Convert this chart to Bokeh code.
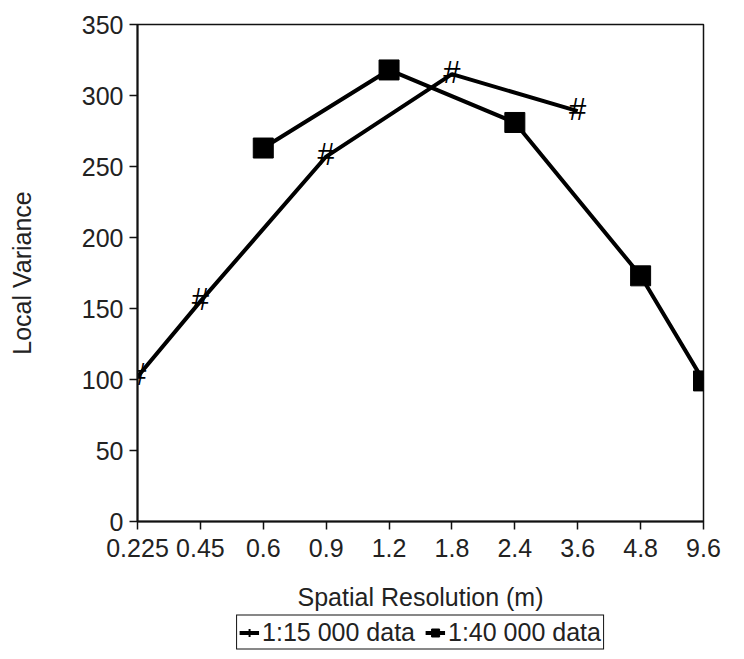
from bokeh.plotting import figure
from bokeh.layouts import column
from bokeh.models import Range1d, FixedTicker, Legend, LegendItem, ColumnDataSource
from bokeh.core.properties import value
from bokeh.embed import file_html
from bokeh.resources import INLINE

# ---- data ----
categories = ["0.225", "0.45", "0.6", "0.9", "1.2", "1.8", "2.4", "3.6", "4.8", "9.6"]
s15_res = ["0.225", "0.45", "0.9", "1.8", "3.6"]
s15_var = [102, 155, 257, 315, 289]
s40_res = ["0.6", "1.2", "2.4", "4.8", "9.6"]
s40_var = [263, 318, 281, 173, 99]
y_ticks = [0, 50, 100, 150, 200, 250, 300, 350]
series_labels = ["1:15 000 data", "1:40 000 data"]

FONT = "Liberation Sans"
FS = "25px"

pos = {c: i for i, c in enumerate(categories)}
src15 = ColumnDataSource(dict(x=[pos[c] for c in s15_res], y=s15_var, t=["#"] * len(s15_res)))
src40 = ColumnDataSource(dict(x=[pos[c] for c in s40_res], y=s40_var))

p = figure(frame_width=566, frame_height=497, output_backend="svg", toolbar_location=None,
           x_range=Range1d(0, len(categories) - 1), y_range=Range1d(0, 350),
           min_border_left=137, min_border_right=33, min_border_top=24, min_border_bottom=0)
p.background_fill_color = "white"
p.border_fill_color = "white"
p.outline_line_color = "#111111"
p.outline_line_width = 1.5
p.xgrid.visible = False
p.ygrid.visible = False

p.line("x", "y", source=src15, line_color="black", line_width=4)
p.text("x", "y", text="t", source=src15, text_font=value(FONT), text_font_size="31px",
       text_align="center", text_baseline="middle", text_color="black", y_offset=-2)
p.line("x", "y", source=src40, line_color="black", line_width=4)
p.scatter("x", "y", source=src40, marker="square", size=20, fill_color="black", line_color="black")

p.xaxis.ticker = FixedTicker(ticks=list(range(len(categories))))
p.xaxis.major_label_overrides = {i: c for i, c in enumerate(categories)}
p.yaxis.ticker = FixedTicker(ticks=y_ticks)

for ax in (p.xaxis[0], p.yaxis[0]):
    ax.axis_line_color = "#111111"
    ax.axis_line_width = 2
    ax.major_tick_line_color = "#111111"
    ax.major_tick_line_width = 1.5
    ax.major_tick_out = 8
    ax.major_tick_in = 0
    ax.minor_tick_out = 0
    ax.minor_tick_in = 0
    ax.major_label_text_font = FONT
    ax.major_label_text_font_size = FS
    ax.major_label_text_color = "#222222"
    ax.major_label_standoff = 6
    ax.axis_label_text_font = FONT
    ax.axis_label_text_font_size = FS
    ax.axis_label_text_font_style = "normal"
    ax.axis_label_text_color = "#222222"

p.xaxis.major_label_standoff = 9
p.xaxis.axis_label = "Spatial Resolution (m)"
p.yaxis.axis_label = "Local Variance"
p.xaxis.axis_label_standoff = 23
p.yaxis.axis_label_standoff = 43

# ---- legend strip below the chart (its renderers fall outside its own range) ----
pl = figure(frame_width=566, frame_height=38, output_backend="svg", toolbar_location=None,
            x_range=Range1d(0, 1), y_range=Range1d(0, 1), x_axis_type=None, y_axis_type=None,
            min_border_left=137, min_border_right=33, min_border_top=0, min_border_bottom=0)
pl.outline_line_color = None
pl.background_fill_color = "white"
pl.border_fill_color = "white"
d15l = pl.line("x", "y", source=src15, line_color="black", line_width=4)
d15m = pl.scatter("x", "y", source=src15, marker="cross", size=16, angle=-0.35,
                  line_color="black", line_width=2)
d40l = pl.line("x", "y", source=src40, line_color="black", line_width=4)
d40m = pl.scatter("x", "y", source=src40, marker="square", size=18, fill_color="black", line_color="black")

legend = Legend(items=[LegendItem(label=series_labels[0], renderers=[d15l, d15m]),
                       LegendItem(label=series_labels[1], renderers=[d40l, d40m])],
                orientation="horizontal", location="center")
legend.label_text_font = FONT
legend.label_text_font_size = FS
legend.label_text_color = "#222222"
legend.border_line_color = "#111111"
legend.border_line_alpha = 1.0
legend.border_line_width = 1.5
legend.padding = 2
legend.spacing = 10
legend.label_standoff = 3
legend.glyph_width = 20
legend.glyph_height = 20
legend.margin = 0
legend.background_fill_color = "white"
legend.background_fill_alpha = 1.0
pl.add_layout(legend, "center")

layout = column(p, pl, spacing=0)
open("out.html", "w").write(file_html(layout, INLINE))
